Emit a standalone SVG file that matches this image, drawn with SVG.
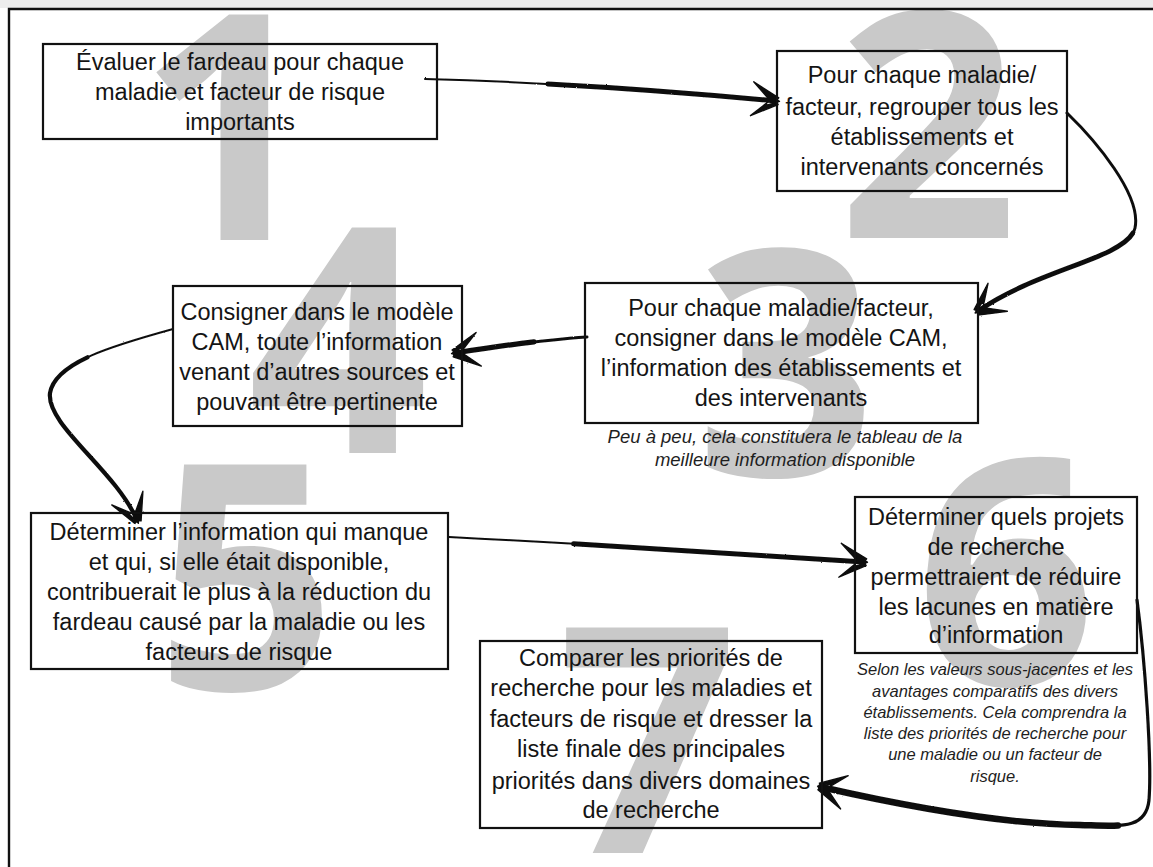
<svg xmlns="http://www.w3.org/2000/svg" width="1153" height="867" viewBox="0 0 1153 867">
  <style>
    .num { font-family: "Open Sans", "Liberation Sans", sans-serif; font-weight: bold; font-size: 316px; fill: #c9c9c9; text-anchor: middle; }
    .box { fill: none; stroke: #111; stroke-width: 2.2; }
    .lbl { font-family: "Liberation Sans", Arial, sans-serif; font-size: 23.5px; fill: #141414; text-anchor: middle; }
    .note { font-family: "Liberation Sans", Arial, sans-serif; font-style: italic; fill: #1e1e1e; text-anchor: middle; }
    .frame { stroke: #111; stroke-width: 2.4; fill: none; }
    .ink { fill: none; stroke: #111; stroke-linecap: round; stroke-linejoin: round; }
    .thin { stroke-width: 2; }
    .bold { stroke-width: 5; }
  </style>
  <defs>
    <!-- sketchy open arrowhead: two tapered barbs meeting at the tip -->
    <marker id="head" viewBox="-30 -22 36 44" refX="0" refY="0" markerWidth="36" markerHeight="44" markerUnits="userSpaceOnUse" orient="auto">
      <path d="M2.4,-3.4 L-24,-17 L-2.4,3.4 Z M2.4,3.4 L-24,17 L-2.4,-3.4 Z M3.5,0 L-9,-5 L-9,5 Z" fill="#111" stroke="#111" stroke-width="1.4" stroke-linejoin="round"/>
    </marker>
    <!-- slight roughening so the strokes read as brush/charcoal -->
    <filter id="rough" x="-5%" y="-5%" width="110%" height="110%">
      <feTurbulence type="fractalNoise" baseFrequency="0.9" numOctaves="2" seed="3" result="n"/>
      <feDisplacementMap in="SourceGraphic" in2="n" scale="1.6" xChannelSelector="R" yChannelSelector="G"/>
    </filter>
  </defs>

  <rect x="0" y="0" width="1153" height="867" fill="#fff"/>
  <rect x="0" y="0" width="1153" height="8" fill="#ededed"/>

  <!-- step numbers in the background -->
  <g id="numbers">
    <text class="num" x="228" y="240">1</text>
    <text class="num" x="928" y="238">2</text>
    <text class="num" x="786" y="476">3</text>
    <text class="num" x="338" y="453">4</text>
    <text class="num" x="246" y="690">5</text>
    <text class="num" x="1006" y="685">6</text>
    <text class="num" x="648" y="853">7</text>
  </g>

  <!-- page frame -->
  <path class="frame" d="M9,867 L9,9 L1153,9"/>

  <!-- connectors: a thin full-length stroke plus a heavier stroke over its later part -->
  <g id="connectors" filter="url(#rough)">
    <path class="ink thin" d="M425,79 C540,82 660,90 776,101" marker-end="url(#head)"/>
    <path class="ink bold" pathLength="100" stroke-dasharray="65 35" stroke-dashoffset="65" d="M425,79 C540,82 660,90 776,101"/>

    <path class="ink" stroke-width="3" d="M1067,113 C1095,140 1142,195 1135,228 C1128,258 1040,268 978,311" marker-end="url(#head)"/>
    <path class="ink" stroke-width="4.8" pathLength="100" stroke-dasharray="55 45" stroke-dashoffset="55" d="M1067,113 C1095,140 1142,195 1135,228 C1128,258 1040,268 978,311"/>

    <path class="ink" stroke-width="3" d="M587,337 C540,340 500,346 455,353" marker-end="url(#head)"/>
    <path class="ink" stroke-width="5.2" pathLength="100" stroke-dasharray="60 40" stroke-dashoffset="60" d="M587,337 C540,340 500,346 455,353"/>

    <path class="ink thin" d="M173,329 C115,345 55,362 50,393 C46,425 115,470 137,520" marker-end="url(#head)"/>
    <path class="ink" stroke-width="4.2" pathLength="100" stroke-dasharray="70 30" stroke-dashoffset="70" d="M173,329 C115,345 55,362 50,393 C46,425 115,470 137,520"/>

    <path class="ink thin" d="M449,537 C600,545 740,553 864,562" marker-end="url(#head)"/>
    <path class="ink bold" pathLength="100" stroke-dasharray="70 30" stroke-dashoffset="70" d="M449,537 C600,545 740,553 864,562"/>

    <path class="ink" stroke-width="3.2" d="M1137,600 C1145,660 1152,760 1149,800 C1146,830 1120,826 1080,825 C1000,824 900,805 821,787" marker-end="url(#head)"/>
    <path class="ink" stroke-width="6.5" pathLength="100" stroke-dasharray="55 45" stroke-dashoffset="55" d="M1137,600 C1145,660 1152,760 1149,800 C1146,830 1120,826 1080,825 C1000,824 900,805 821,787"/>
  </g>

  <g id="step1">
    <rect class="box" x="43" y="44" width="394" height="95"/>
    <text class="lbl" x="240" y="70">Évaluer le fardeau pour chaque</text>
    <text class="lbl" x="240" y="100">maladie et facteur de risque</text>
    <text class="lbl" x="240" y="130">importants</text>
  </g>

  <g id="step2">
    <rect class="box" x="777" y="51" width="290" height="140"/>
    <text class="lbl" x="922" y="83">Pour chaque maladie/</text>
    <text class="lbl" x="922" y="115">facteur, regrouper tous les</text>
    <text class="lbl" x="922" y="145">établissements et</text>
    <text class="lbl" x="922" y="175">intervenants concernés</text>
  </g>

  <g id="step3">
    <rect class="box" x="585" y="283" width="393" height="140"/>
    <text class="lbl" x="781" y="316">Pour chaque maladie/facteur,</text>
    <text class="lbl" x="781" y="346">consigner dans le modèle CAM,</text>
    <text class="lbl" x="781" y="376">l’information des établissements et</text>
    <text class="lbl" x="781" y="406">des intervenants</text>
    <text class="note" font-size="18.5" x="785" y="443">Peu à peu, cela constituera le tableau de la</text>
    <text class="note" font-size="18.5" x="785" y="466">meilleure information disponible</text>
  </g>

  <g id="step4">
    <rect class="box" x="173" y="286" width="289" height="140"/>
    <text class="lbl" x="317" y="320">Consigner dans le modèle</text>
    <text class="lbl" x="317" y="350">CAM, toute l’information</text>
    <text class="lbl" x="317" y="380">venant d’autres sources et</text>
    <text class="lbl" x="317" y="410">pouvant être pertinente</text>
  </g>

  <g id="step5">
    <rect class="box" x="31" y="513" width="417" height="156"/>
    <text class="lbl" font-size="24" x="239" y="540">Déterminer l’information qui manque</text>
    <text class="lbl" font-size="24" x="239" y="570">et qui, si elle était disponible,</text>
    <text class="lbl" font-size="24" x="239" y="600">contribuerait le plus à la réduction du</text>
    <text class="lbl" font-size="24" x="239" y="630">fardeau causé par la maladie ou les</text>
    <text class="lbl" font-size="24" x="239" y="660">facteurs de risque</text>
  </g>

  <g id="step6">
    <rect class="box" x="855" y="497" width="282" height="156"/>
    <text class="lbl" x="996" y="525">Déterminer quels projets</text>
    <text class="lbl" x="996" y="555">de recherche</text>
    <text class="lbl" x="996" y="585">permettraient de réduire</text>
    <text class="lbl" x="996" y="615">les lacunes en matière</text>
    <text class="lbl" x="996" y="643">d’information</text>
    <text class="note" font-size="16.5" x="995" y="675">Selon les valeurs sous-jacentes et les</text>
    <text class="note" font-size="16.5" x="995" y="697">avantages comparatifs des divers</text>
    <text class="note" font-size="16.5" x="995" y="718">établissements. Cela comprendra la</text>
    <text class="note" font-size="16.5" x="995" y="739">liste des priorités de recherche pour</text>
    <text class="note" font-size="16.5" x="995" y="760">une maladie ou un facteur de</text>
    <text class="note" font-size="16.5" x="995" y="782">risque.</text>
  </g>

  <g id="step7">
    <rect class="box" x="480" y="641" width="342" height="187"/>
    <text class="lbl" x="651" y="666">Comparer les priorités de</text>
    <text class="lbl" x="651" y="696">recherche pour les maladies et</text>
    <text class="lbl" x="651" y="727">facteurs de risque et dresser la</text>
    <text class="lbl" x="651" y="757">liste finale des principales</text>
    <text class="lbl" x="651" y="789">priorités dans divers domaines</text>
    <text class="lbl" x="651" y="818">de recherche</text>
  </g>
</svg>
